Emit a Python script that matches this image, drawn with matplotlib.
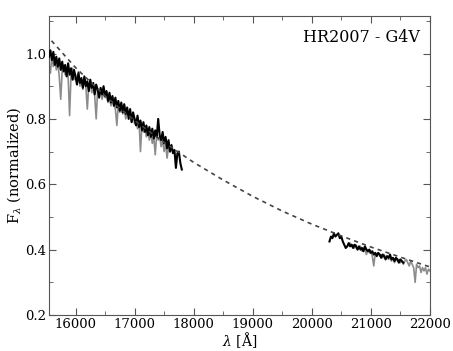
import numpy as np
import matplotlib
matplotlib.use("Agg")
import matplotlib.pyplot as plt
from matplotlib.ticker import MultipleLocator

# Model (dashed) curve
model_wl = [15500, 16000, 16500, 17000, 17500, 18000, 18500, 19000, 19500,
            20000, 20500, 21000, 21500, 22000]
model_flux = [1.058, 0.957, 0.870, 0.795, 0.728, 0.667, 0.613, 0.563, 0.518,
              0.478, 0.442, 0.408, 0.377, 0.347]

# Black spectrum, H band (25 A sampling from 15550)
black1_flux = [0.99, 1.01, 0.98, 1.005, 0.965, 0.99, 0.96, 0.985, 0.95, 0.975,
               0.945, 0.965, 0.93, 0.97, 0.935, 0.955, 0.92, 0.95, 0.93, 0.905,
               0.94, 0.91, 0.925, 0.895, 0.93, 0.90, 0.915, 0.885, 0.92, 0.895,
               0.91, 0.875, 0.905, 0.89, 0.865, 0.895, 0.875, 0.90, 0.87, 0.885,
               0.855, 0.88, 0.85, 0.87, 0.84, 0.865, 0.835, 0.855, 0.825, 0.85,
               0.82, 0.845, 0.815, 0.835, 0.80, 0.83, 0.79, 0.82, 0.80, 0.78,
               0.81, 0.775, 0.795, 0.765, 0.79, 0.76, 0.78, 0.75, 0.775, 0.745,
               0.77, 0.74, 0.765, 0.745, 0.80, 0.75, 0.735, 0.76, 0.725, 0.745,
               0.71, 0.735, 0.70, 0.72, 0.695, 0.705, 0.65, 0.695, 0.70, 0.665,
               0.645]
black1_wl = np.arange(len(black1_flux)) * 25 + 15550

# Gray spectrum, H band (25 A sampling from 15550)
gray1_flux = [0.97, 0.94, 0.99, 0.96, 0.985, 0.95, 0.97, 0.93, 0.86, 0.95,
              0.965, 0.935, 0.95, 0.93, 0.81, 0.94, 0.955, 0.92, 0.935, 0.91,
              0.945, 0.90, 0.92, 0.89, 0.925, 0.90, 0.83, 0.905, 0.915, 0.88,
              0.895, 0.87, 0.80, 0.89, 0.875, 0.885, 0.86, 0.88, 0.865, 0.885,
              0.85, 0.87, 0.84, 0.865, 0.845, 0.83, 0.78, 0.845, 0.82, 0.84,
              0.815, 0.835, 0.80, 0.825, 0.81, 0.82, 0.79, 0.81, 0.785, 0.80,
              0.77, 0.795, 0.70, 0.785, 0.76, 0.775, 0.745, 0.77, 0.735, 0.76,
              0.725, 0.745, 0.69, 0.755, 0.735, 0.745, 0.715, 0.735, 0.70, 0.725,
              0.68, 0.715, 0.70]
gray1_wl = np.arange(len(gray1_flux)) * 25 + 15550

# Black spectrum, K band (25 A sampling from 20300)
black2_flux = [0.425, 0.44, 0.435, 0.45, 0.44, 0.445, 0.45, 0.435, 0.44, 0.425,
               0.415, 0.405, 0.41, 0.42, 0.41, 0.415, 0.405, 0.415, 0.41, 0.40,
               0.41, 0.40, 0.405, 0.395, 0.41, 0.40, 0.395, 0.40, 0.39, 0.395,
               0.385, 0.39, 0.38, 0.39, 0.385, 0.375, 0.385, 0.38, 0.37, 0.38,
               0.375, 0.385, 0.37, 0.375, 0.365, 0.375, 0.37, 0.36, 0.37, 0.365,
               0.36]
black2_wl = np.arange(len(black2_flux)) * 25 + 20300

# Gray spectrum, K band (25 A sampling from 20600)
gray2_flux = [0.41, 0.415, 0.42, 0.41, 0.415, 0.405, 0.415, 0.40, 0.405, 0.41,
              0.395, 0.405, 0.40, 0.385, 0.40, 0.39, 0.395, 0.38, 0.35, 0.39,
              0.385, 0.39, 0.38, 0.385, 0.375, 0.385, 0.375, 0.38, 0.37, 0.375,
              0.365, 0.375, 0.36, 0.37, 0.365, 0.37, 0.36, 0.365, 0.355, 0.365,
              0.37, 0.36, 0.35, 0.365, 0.355, 0.345, 0.30, 0.355, 0.345, 0.35,
              0.33, 0.345, 0.335, 0.345, 0.325, 0.34, 0.335]
gray2_wl = np.arange(len(gray2_flux)) * 25 + 20600

plt.rcParams['font.family'] = ['DejaVu Serif']
plt.rcParams['mathtext.fontset'] = 'dejavuserif'

fig = plt.figure(figsize=(4.53, 3.51), dpi=100)
ax = fig.add_axes([0.108, 0.1026, 0.841, 0.852])

ax.plot(gray1_wl, gray1_flux, color='#8c8c8c', lw=1.2, zorder=2)
ax.plot(gray2_wl, gray2_flux, color='#8c8c8c', lw=1.2, zorder=2)
ax.plot(black1_wl, black1_flux, color='black', lw=1.5, zorder=3)
ax.plot(black2_wl, black2_flux, color='black', lw=1.5, zorder=3)
ax.plot(model_wl, model_flux, color='#444444', lw=1.2, ls=(0, (2.5, 2.5)), zorder=4)

ax.set_xlim(15550, 22000)
ax.set_ylim(0.2, 1.115)
ax.xaxis.set_major_locator(MultipleLocator(1000))
ax.xaxis.set_minor_locator(MultipleLocator(500))
ax.yaxis.set_major_locator(MultipleLocator(0.2))
ax.yaxis.set_minor_locator(MultipleLocator(0.1))
ax.tick_params(which='both', direction='in', top=True, right=True,
               color='#555555', labelsize=9.5)
ax.tick_params(which='major', length=5, pad=2)
ax.tick_params(which='minor', length=3)
for s in ax.spines.values():
    s.set_color('#555555')

ax.set_xlabel(r'$\lambda$ [Å]', fontsize=10, labelpad=-0.5)
ax.set_ylabel(r'F$_\lambda$ (normalized)', fontsize=10.5, labelpad=1.5)
ax.text(0.975, 0.955, 'HR2007 - G4V', transform=ax.transAxes,
        ha='right', va='top', fontsize=11.5)

fig.savefig('out.png', dpi=100)
